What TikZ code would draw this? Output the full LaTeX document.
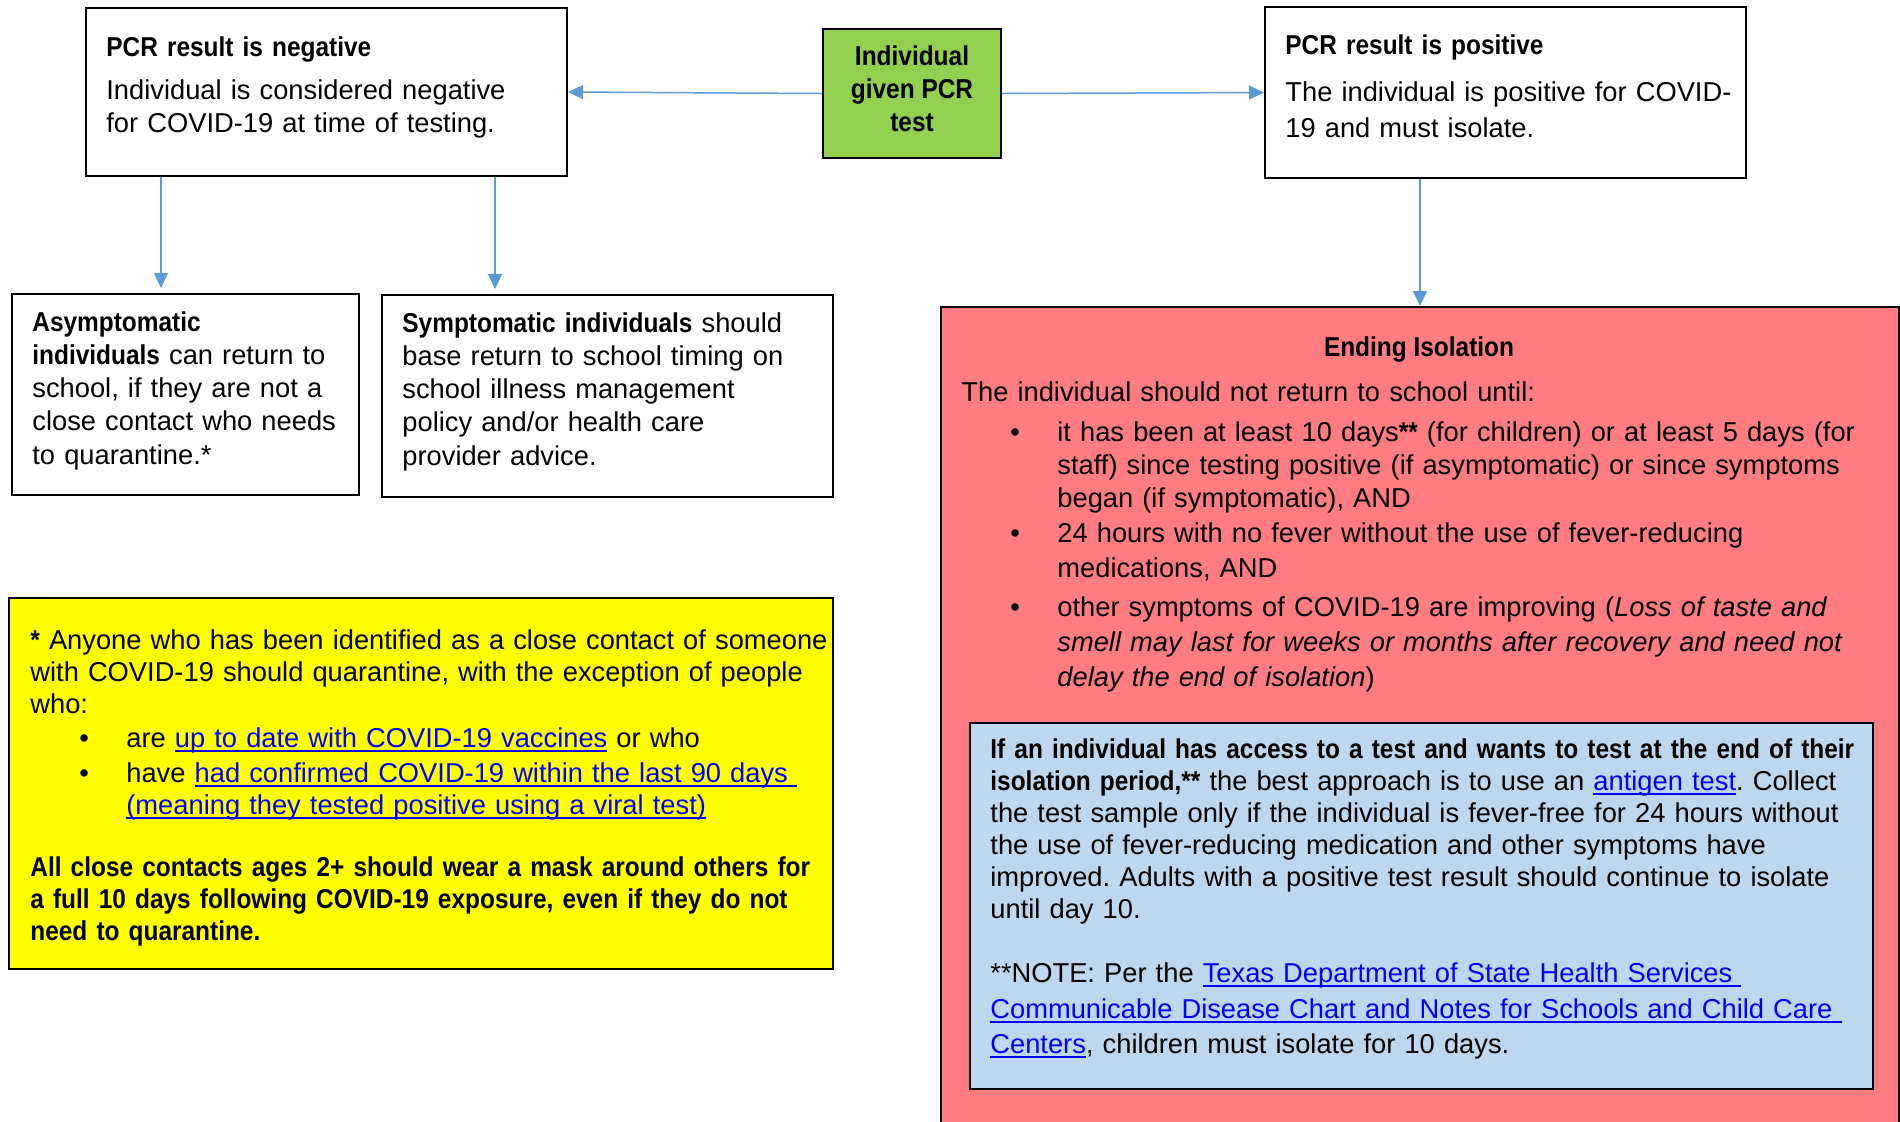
\documentclass[tikz,border=0pt]{standalone}
\usepackage{fontspec}
\setmainfont{Liberation Sans}[BoldFeatures={FakeStretch=0.895}]
\usetikzlibrary{arrows.meta}
\definecolor{arrowblue}{HTML}{5B9BD5}
\definecolor{pcrgreen}{HTML}{92D050}
\definecolor{isored}{HTML}{FF7C80}
\definecolor{testblue}{HTML}{BDD7EE}
\definecolor{noteyel}{HTML}{FFFF00}
\definecolor{linkblue}{HTML}{0000FF}
\newsavebox{\lnkbox}
\newcommand{\lnk}[1]{\leavevmode\hbox{\color{linkblue}\sbox{\lnkbox}{#1}\rlap{\rule[-2.4pt]{\wd\lnkbox}{0.75pt}}\usebox{\lnkbox}}}
\newcommand{\listdot}{\hspace*{24.5pt}\makebox[23.5pt][l]{\textbullet}}
\newcommand{\listpad}{\hspace*{48pt}}
\frenchspacing
\hyphenpenalty=10000
\exhyphenpenalty=10000
\begin{document}
\begin{tikzpicture}[x=0.5pt,y=-0.5pt,
		box/.style={draw=black,line width=1pt,anchor=north west,inner sep=0pt},
		flow/.style={draw=arrowblue,line width=0.75pt,-{Triangle[length=7.5pt,width=7pt]}},
		body/.style={anchor=base west,align=left,inner sep=0pt,font=\fontsize{13.65pt}{16.5pt}\selectfont}]
			\useasboundingbox (0,0) rectangle (1900,1121);
			
			%test and results
			\node[box,fill=pcrgreen,minimum width=89pt,minimum height=64.5pt] (pcr) at (822,28) {};
			\node[align=center,inner sep=0pt,font=\bfseries\fontsize{13.65pt}{16.5pt}\selectfont,yshift=2.2pt] (pcrtxt) at (pcr.center) {Individual\\given PCR\\test};
			
			\node[box,minimum width=240.5pt,minimum height=84pt] (neg) at (85,7) {};
			\node[body,text width=235pt] (negtxt) at (106,56) {\textbf{PCR result is negative}\\[5pt]
				Individual is considered negative\\
				for COVID-19 at time of testing.};
			
			\node[box,minimum width=240.5pt,minimum height=85.5pt] (pos) at (1264,6) {};
			\node[body,text width=240pt] (postxt) at (1285,54) {\textbf{PCR result is positive}\\[7pt]
				The individual is positive for COVID-\\[1.5pt]
				19 and must isolate.};
			
			%negative branch
			\node[box,minimum width=173.5pt,minimum height=100.5pt] (asym) at (11,293) {};
			\node[body,text width=175pt,font=\fontsize{13.65pt}{16.65pt}\selectfont] (asymtxt) at (32,331) {\textbf{Asymptomatic}\\
				\textbf{individuals} can return to\\
				school, if they are not a\\
				close contact who needs\\
				to quarantine.*};
			
			\node[box,minimum width=225.5pt,minimum height=101pt] (sym) at (381,294) {};
			\node[body,text width=220pt,font=\fontsize{13.65pt}{16.65pt}\selectfont] (symtxt) at (402,332) {\textbf{Symptomatic individuals} should\\
				base return to school timing on\\
				school illness management\\
				policy and/or health care\\
				provider advice.};
			
			%quarantine note
			\node[box,fill=noteyel,minimum width=412pt,minimum height=185.5pt] (note) at (8,597) {};
			\node[body,text width=420pt,font=\fontsize{13.65pt}{16pt}\selectfont] (notetxt) at (30,649) {\textbf{*} Anyone who has been identified as a close contact of someone\\
				with COVID-19 should quarantine, with the exception of people\\
				who:\\[1pt]
				\listdot are \lnk{up to date with COVID-19 vaccines} or who\\[1.5pt]
				\listdot have \lnk{had confirmed COVID-19 within the last 90 days\ }\\
				\listpad\lnk{(meaning they tested positive using a viral test)}\\[15pt]
				\textbf{All close contacts ages 2+ should wear a mask around others for}\\
				\textbf{a full 10 days following COVID-19 exposure, even if they do not}\\
				\textbf{need to quarantine.}};
			
			%positive branch
			\node[box,fill=isored,minimum width=479pt,minimum height=420pt] (iso) at (940,306) {};
			\node[anchor=base,inner sep=0pt,font=\bfseries\fontsize{13.65pt}{16.5pt}\selectfont] (isotitle) at (1419,356) {Ending Isolation};
			\node[body,text width=465pt] (isotxt) at (961,401) {The individual should not return to school until:\\[3.5pt]
				\listdot it has been at least 10 days\textbf{**} (for children) or at least 5 days (for\\
				\listpad staff) since testing positive (if asymptomatic) or since symptoms\\
				\listpad began (if symptomatic), AND\\[1pt]
				\listdot 24 hours with no fever without the use of fever-reducing\\[1pt]
				\listpad medications, AND\\[3pt]
				\listdot other symptoms of COVID-19 are improving (\textit{Loss of taste and}\\[1pt]
				\listpad\textit{smell may last for weeks or months after recovery and need not}\\[1pt]
				\listpad\textit{delay the end of isolation})};
			
			\node[box,fill=testblue,minimum width=451.5pt,minimum height=183pt] (test) at (969,722) {};
			\node[body,text width=445pt,font=\fontsize{13.65pt}{16pt}\selectfont] (testtxt) at (990,758) {\textbf{If an individual has access to a test and wants to test at the end of their}\\
				\textbf{isolation period,**} the best approach is to use an \lnk{antigen test}. Collect\\
				the test sample only if the individual is fever-free for 24 hours without\\
				the use of fever-reducing medication and other symptoms have\\
				improved. Adults with a positive test result should continue to isolate\\
				until day 10.\\[16pt]
				**NOTE: Per the \lnk{Texas Department of State Health Services\ }\\[2pt]
				\lnk{Communicable Disease Chart and Notes for Schools and Child Care\ }\\[1.5pt]
				\lnk{Centers}, children must isolate for 10 days.};
			
			%arrows
			\coordinate (asymtop) at ([xshift=38pt]neg.south west);
			\coordinate (symtop) at ([xshift=205pt]neg.south west);
			\draw[flow] (pcr.west) -- (neg.east);
			\draw[flow] (pcr.east) -- (pos.west);
			\draw[flow,shorten >=2.5pt] (asymtop) -- (asymtop |- asym.north);
			\draw[flow,shorten >=2.5pt] (symtop) -- (symtop |- sym.north);
			\draw[flow] (iso.north |- pos.south) -- (iso.north);
		\end{tikzpicture}
\end{document}
